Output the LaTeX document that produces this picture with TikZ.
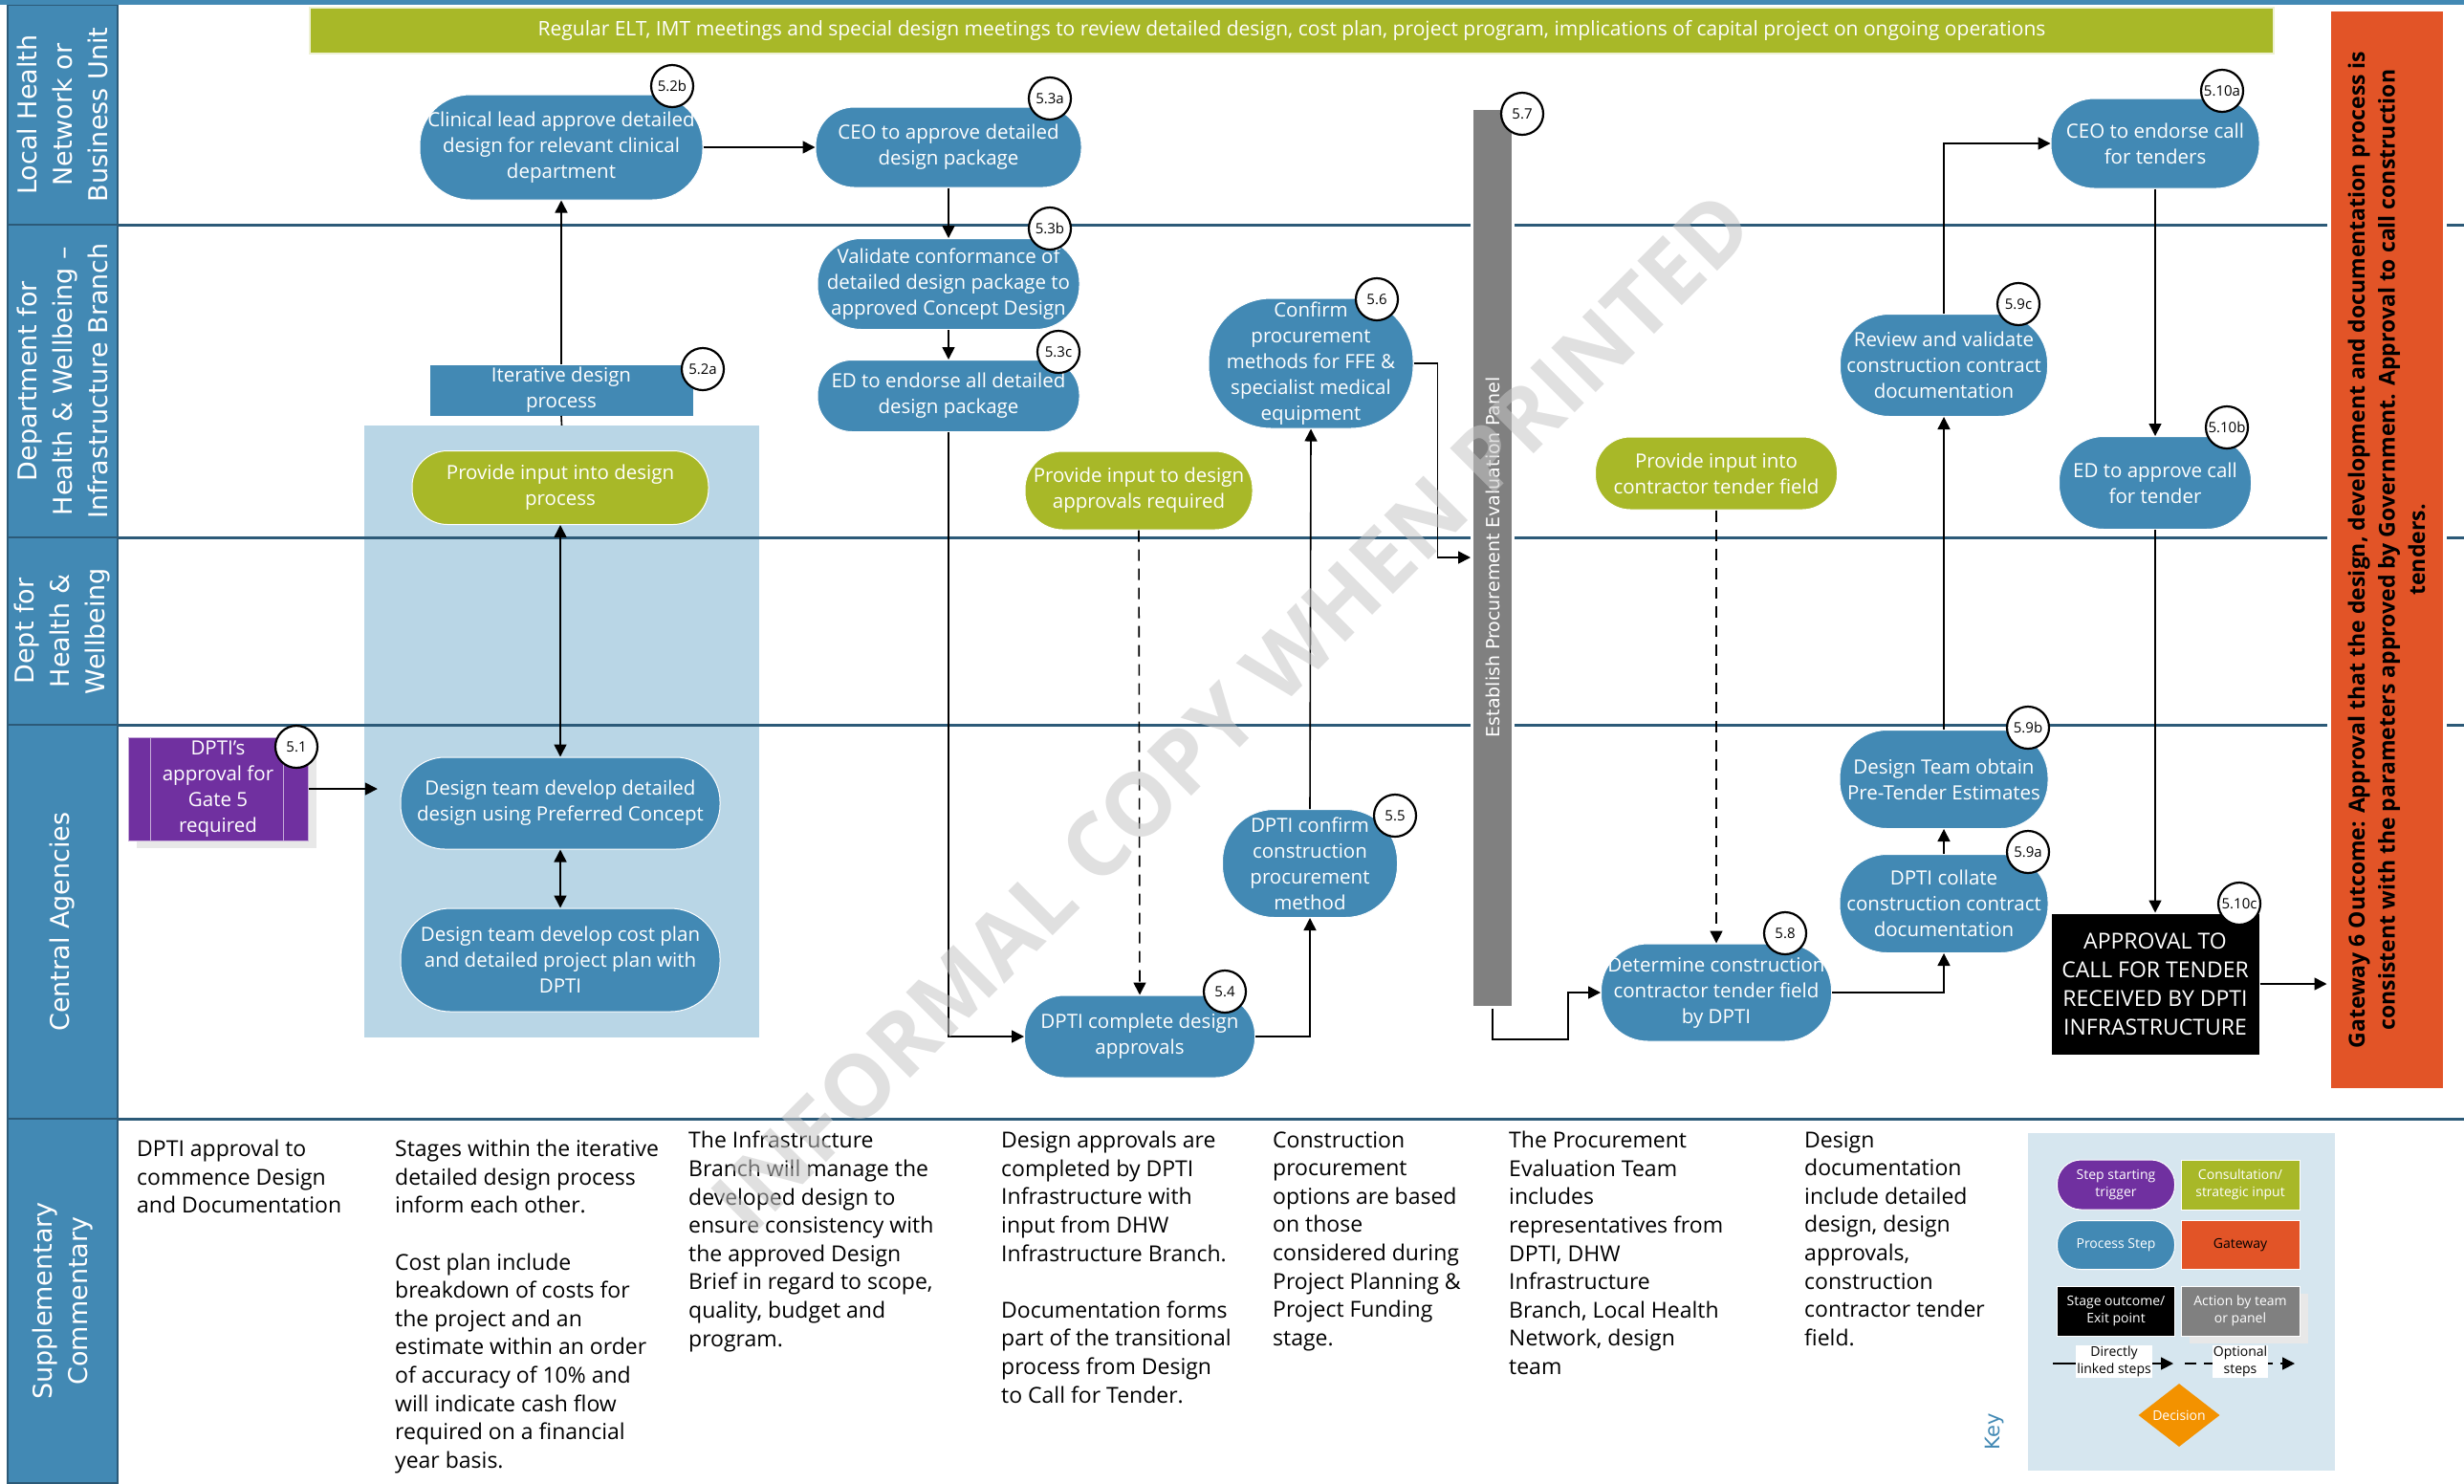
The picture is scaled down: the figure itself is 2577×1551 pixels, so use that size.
\documentclass[tikz,border=0pt]{standalone}
\usepackage{fontspec}
\setmainfont{Open Sans}
\newfontfamily\lanefont{DejaVu Sans}
\usepackage{tikz}
\usetikzlibrary{arrows.meta,calc,shapes.geometric,shadows}
\definecolor{procblue}{RGB}{66,137,180}
\definecolor{laneline}{RGB}{44,90,120}
\definecolor{inputgreen}{RGB}{168,184,40}
\definecolor{gateorange}{RGB}{226,84,39}
\definecolor{trigpurple}{RGB}{112,48,160}
\definecolor{teamgray}{RGB}{128,128,128}
\definecolor{iterblue}{RGB}{185,214,230}
\definecolor{keybg}{RGB}{214,230,239}
\definecolor{decorange}{RGB}{243,146,0}

\begin{document}
\begin{tikzpicture}[x=1pt,y=-1pt,
proc/.style 2 args={rectangle,rounded corners=0.48*#2pt,minimum width=#1pt,minimum height=#2pt,fill=procblue,draw=white,line width=1pt,text=white,align=center,inner sep=0pt,font=\fontsize{20.5}{27}\selectfont},
inp/.style 2 args={proc={#1}{#2},fill=inputgreen},
box/.style 2 args={rectangle,minimum width=#1pt,minimum height=#2pt,draw=white,line width=1pt,text=white,align=center,inner sep=0pt,font=\fontsize{20.5}{27}\selectfont},
badge/.style={circle,draw=black,line width=2.2pt,fill=white,minimum size=44pt,inner sep=0pt,font=\fontsize{15}{15}\selectfont},
lnk/.style={line width=1.6pt,-{Triangle[length=13pt,width=13pt]}},
opt/.style={lnk,dash pattern=on 12pt off 8pt},
both/.style={line width=1.6pt,{Triangle[length=13pt,width=13pt]}-{Triangle[length=13pt,width=13pt]}},
lanelbl/.style={rotate=90,text=white,align=center,font=\lanefont\fontsize{27}{37}\selectfont},
note/.style={anchor=north west,align=left,inner sep=0pt,font=\fontsize{23}{29.6}\selectfont},
keyfont/.style={font=\fontsize{14}{18}\selectfont},
shadowed/.style={drop shadow={shadow xshift=9pt,shadow yshift=-8pt,fill=black!9,opacity=1}}]
\fill[white] (0,0) rectangle (2577,1551);
\useasboundingbox (0,0) rectangle (2577,1551);

\foreach \ya/\yb/\txt in %
{5/235/{Local Health\\Network or\\Business Unit},235/562/{Department for\\Health \& Wellbeing –\\Infrastructure Branch},562/758/{Dept for\\Health \&\\Wellbeing},758/1170/{Central Agencies},1170/1551/{Supplementary\\Commentary}} {
   \draw[fill=procblue,draw=laneline,line width=2pt] (8,\ya) rectangle (123,\yb);
   \node[lanelbl] (lane\ya) at (65.5,{(\ya+\yb)/2}) {\txt};
}
\fill[procblue] (0,0) rectangle (2577,5);

\node[fill=iterblue,minimum width=413pt,minimum height=640pt,inner sep=0pt] (iter) at (587.5,765) {};
\node[fill=keybg,minimum width=321pt,minimum height=353pt,inner sep=0pt] (keybox) at (2281.5,1361.5) {};

\foreach \y in {235,562,758,1170}
   \draw[laneline,line width=3pt] (123,\y) -- (2577,\y);

\node[fill=inputgreen,draw=white!80!inputgreen,line width=1.5pt,minimum width=2054pt,minimum height=48pt,text=white,font=\fontsize{21}{24}\selectfont] (elt) at (1351,32) {Regular ELT, IMT meetings and special design meetings to review detailed design, cost plan, project program, implications of capital project on ongoing operations};

% process steps
\node[box={188}{108},fill=trigpurple,draw=white!60!trigpurple,shadowed] (n51) at (228,825) {DPTI’s\\approval for\\Gate 5\\required};
\draw[white!60!trigpurple,line width=1pt] ([xshift=24pt]n51.north west) -- ([xshift=24pt]n51.south west)
   ([xshift=-26pt]n51.north east) -- ([xshift=-26pt]n51.south east);
\node[proc={296}{110}] (n52b) at (587,154) {Clinical lead approve detailed\\design for relevant clinical\\department};
\node[box={275}{53},fill=procblue,draw=none] (n52a) at (587,408) {Iterative design\\process};
\node[inp={310}{77}] (i52) at (586,510) {Provide input into design\\process};
\node[proc={334}{96}] (n52c) at (586,840) {Design team develop detailed\\design using Preferred Concept};
\node[proc={334}{108}] (n52d) at (586,1004) {Design team develop cost plan\\and detailed project plan with\\DPTI};
\node[proc={278}{84}] (n53a) at (992,154) {CEO to approve detailed\\design package};
\node[proc={274}{95}] (n53b) at (992,297) {Validate conformance of\\detailed design package to\\approved Concept Design};
\node[proc={274}{75}] (n53c) at (992,414) {ED to endorse all detailed\\design package};
\node[inp={238}{82}] (i54) at (1191,513) {Provide input to design\\approvals required};
\node[proc={241}{86}] (n54) at (1192,1084) {DPTI complete design\\approvals};
\node[proc={183}{113}] (n55) at (1370,903) {DPTI confirm\\construction\\procurement\\method};
\node[proc={214}{136}] (n56) at (1371,380) {Confirm\\procurement\\methods for FFE \&\\specialist medical\\equipment};
\node[rotate=90,fill=teamgray,draw=white,line width=3pt,minimum width=940pt,minimum height=43pt,inner sep=0pt,text=white,font=\lanefont\fontsize{19}{19}\selectfont] (n57) at (1561,583) {Establish Procurement Evaluation Panel};
\node[inp={253}{76}] (i58) at (1795,495) {Provide input into\\contractor tender field};
\node[proc={241}{102}] (n58) at (1795,1038) {Determine construction\\contractor tender field\\by DPTI};
\node[proc={218}{103}] (n59a) at (2033,945) {DPTI collate\\construction contract\\documentation};
\node[proc={218}{103}] (n59b) at (2033,815) {Design Team obtain\\Pre-Tender Estimates};
\node[proc={217}{107}] (n59c) at (2033,382) {Review and validate\\construction contract\\documentation};
\node[proc={218}{94}] (n510a) at (2254,150) {CEO to endorse call\\for tenders};
\node[proc={201}{97}] (n510b) at (2254,505) {ED to approve call\\for tender};
\node[box={218}{148},fill=black,font=\fontsize{23}{30}\selectfont] (n510c) at (2254,1029) {APPROVAL TO\\CALL FOR TENDER\\RECEIVED BY DPTI\\INFRASTRUCTURE};
\node[rotate=90,fill=gateorange,draw=white,line width=4pt,minimum width=1130pt,minimum height=121pt,align=center,inner sep=0pt,font=\fontsize{23}{31.5}\selectfont\bfseries] (gate) at (2496,575) {Gateway 6 Outcome: Approval that the design, development and documentation process is\\consistent with the parameters approved by Government. Approval to call construction\\tenders.};

% connectors
\draw[lnk] (n51.east) -- ($(n51.east -| iter.west)+(14,0)$);
\draw[line width=1.6pt] (n52a.south) -- (iter.north);
\draw[lnk] (n52a.north) -- (n52b.south);
\draw[both] (i52.south) -- (n52c.north);
\draw[both] (n52c.south) -- (n52d.north);
\draw[lnk] (n52b.east) -- (n53a.west);
\draw[lnk] (n53a.south) -- (n53b.north);
\draw[lnk] (n53b.south) -- (n53c.north);
\draw[lnk] (n53c.south) |- (n54.west);
\draw[opt] (i54.south) -- (n54.north);
\draw[lnk] (n54.east) -| (n55.south);
\draw[lnk] (n55.north) -- (n56.south);
\draw[lnk] (n56.east) -- ++(25,0) |- (n57.north);
\draw[lnk] (n57.west) |- (1640,1087) |- (n58.west);
\draw[opt] (i58.south) -- (n58.north);
\draw[lnk] (n58.east) -| (n59a.south);
\draw[lnk] (n59a.north) -- (n59b.south);
\draw[lnk] (n59b.north) -- (n59c.south);
\draw[lnk] (n59c.north) |- (n510a.west);
\draw[lnk] (n510a.south) -- (n510b.north);
\draw[lnk] (n510b.south) -- (n510c.north);
\draw[lnk] (n510c.east) -- (n510c.east -| gate.north);

\foreach \nm/\x/\y in %
{1/310/781,2a/735/386,2b/703/90,3a/1098/103,3b/1098/239,3c/1107/368,4/1281/1037,5/1459/853,6/1440/313,7/1592/119,8/1867/976,9a/2121/891,9b/2121/761,9c/2111/318,10a/2324/95,10b/2329/447,10c/2342/945} {
   \node[badge] (b\nm) at (\x,\y) {5.\nm};
}

% commentary
\foreach \x/\y/\txt in %
{143/1192/{DPTI approval to\\commence Design\\and Documentation},
 413/1192/{Stages within the iterative\\detailed design process\\inform each other.\\[29.6pt]Cost plan include\\breakdown of costs for\\the project and an\\estimate within an order\\of accuracy of 10\% and\\will indicate cash flow\\required on a financial\\year basis.},
 720/1183/{The Infrastructure\\Branch will manage the\\developed design to\\ensure consistency with\\the approved Design\\Brief in regard to scope,\\quality, budget and\\program.},
 1047/1183/{Design approvals are\\completed by DPTI\\Infrastructure with\\input from DHW\\Infrastructure Branch.\\[29.6pt]Documentation forms\\part of the transitional\\process from Design\\to Call for Tender.},
 1331/1183/{Construction\\procurement\\options are based\\on those\\considered during\\Project Planning \&\\Project Funding\\stage.},
 1578/1183/{The Procurement\\Evaluation Team\\includes\\representatives from\\DPTI, DHW\\Infrastructure\\Branch, Local Health\\Network, design\\team},
 1887/1183/{Design\\documentation\\include detailed\\design, design\\approvals,\\construction\\contractor tender\\field.}} {
   \node[note] (note\x) at (\x,\y) {\txt};
}

% key
\node[rotate=90,text=procblue,font=\lanefont\fontsize{21}{21}\selectfont] (keyttl) at (2086,1497) {Key};
\node[proc={123}{52},fill=trigpurple,keyfont] (k1) at (2213,1239) {Step starting\\trigger};
\node[box={124}{52},fill=inputgreen,keyfont] (k2) at (2343,1239) {Consultation/\\strategic input};
\node[proc={123}{51},keyfont] (k3) at (2213,1302) {Process Step};
\node[box={124}{51},fill=gateorange,text=black,keyfont] (k4) at (2343,1302) {Gateway};
\node[box={123}{52},fill=black,keyfont] (k5) at (2213,1371) {Stage outcome/\\Exit point};
\node[box={124}{52},fill=teamgray,shadowed,keyfont] (k6) at (2343,1371) {Action by team\\or panel};
\coordinate (ka) at (2147,1426);
\coordinate (kb) at (2273,1426);
\coordinate (kc) at (2285,1426);
\coordinate (kd) at (2400,1426);
\draw[lnk] (ka) -- (kb);
\draw[opt] (kc) -- (kd);
\node[fill=white,align=center,inner sep=1pt,keyfont] (kl1) at (2211,1424) {Directly\\linked steps};
\node[fill=white,align=center,inner sep=1pt,keyfont] (kl2) at (2343,1424) {Optional\\steps};
\node[diamond,fill=decorange,text=white,minimum width=85pt,minimum height=66pt,inner sep=0pt,keyfont] (k7) at (2279,1480) {Decision};

\node[rotate=45,text=black!22,opacity=0.55,font=\fontsize{92}{92}\selectfont\bfseries] (wm) at (1288,745) {INFORMAL COPY WHEN PRINTED};
\end{tikzpicture}
\end{document}
